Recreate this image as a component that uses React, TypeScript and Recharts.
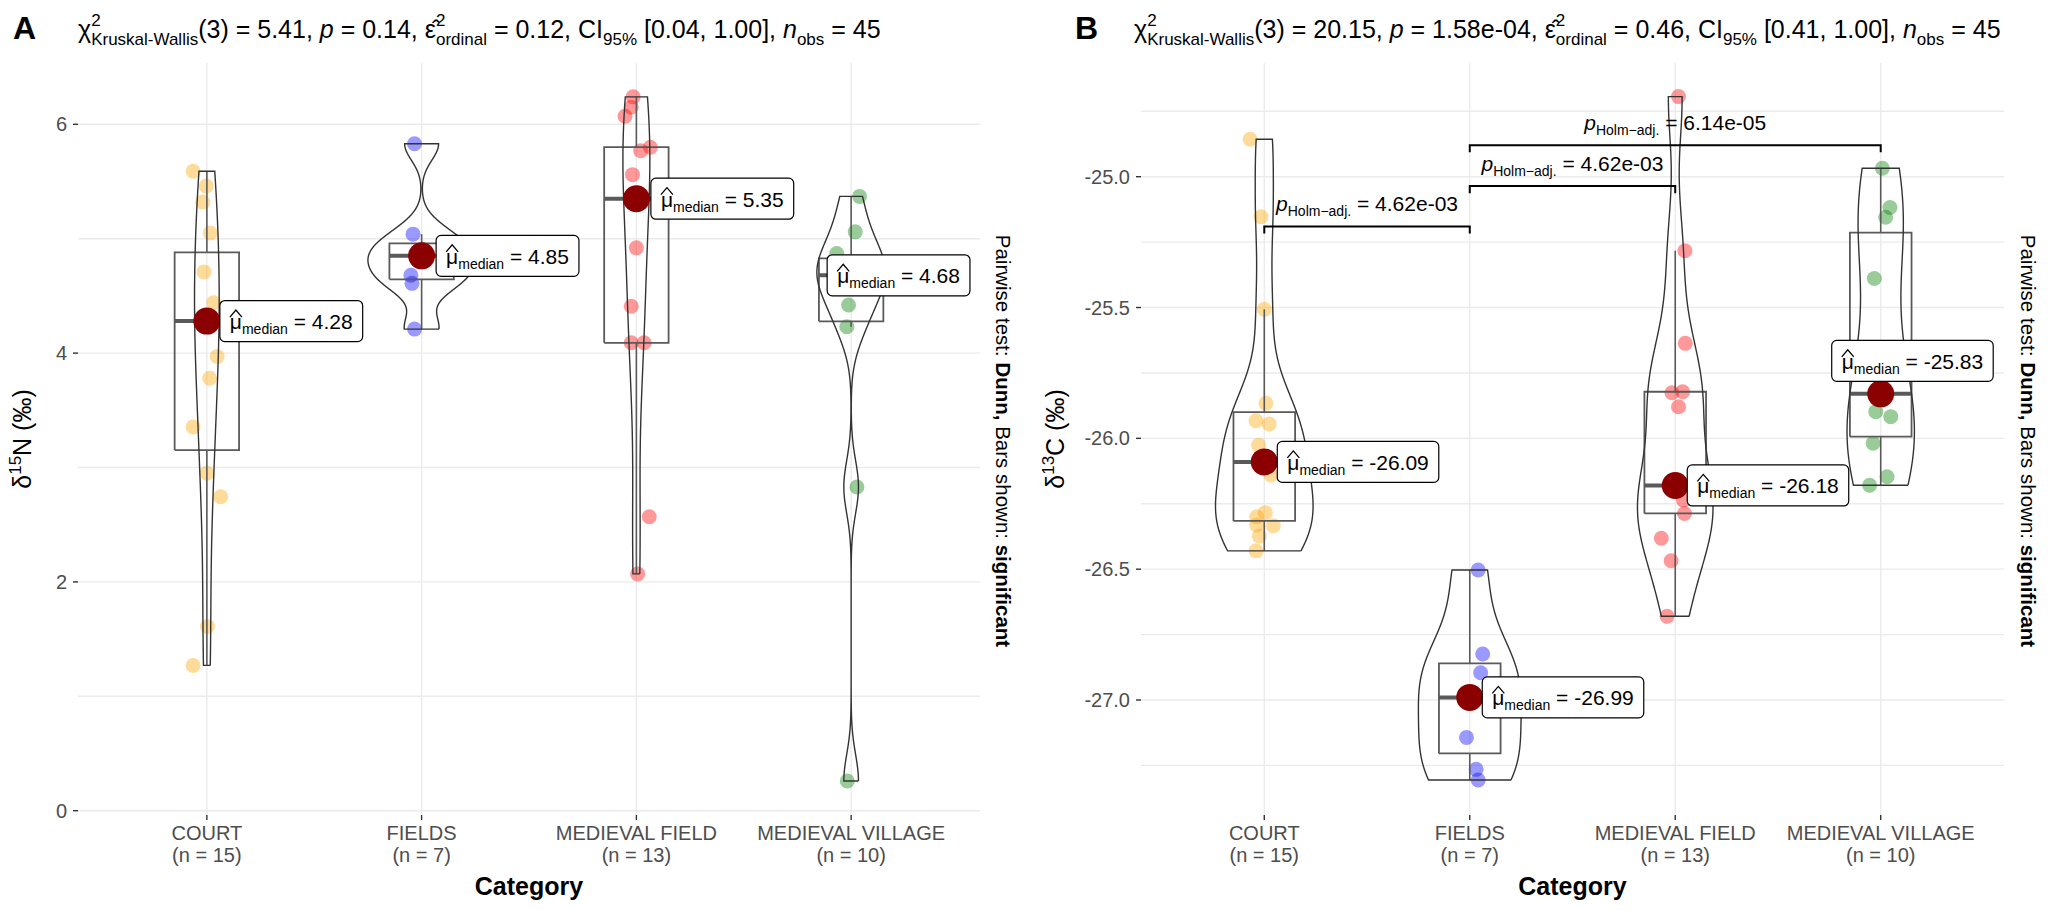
import React from 'react';
import { ComposedChart, Scatter, XAxis, YAxis, CartesianGrid } from 'recharts';

const FONT = '"Liberation Sans", Arial, sans-serif';

const categories = ['COURT', 'FIELDS', 'MEDIEVAL FIELD', 'MEDIEVAL VILLAGE'];
const groupColors = ['#FFA500', '#0000FF', '#FF0000', '#008000'];

// delta 15N (permil), panel A
const n15Court = [5.59, 5.46, 5.32, 5.05, 4.71, 4.44, 4.32, 4.28, 3.97, 3.78, 3.355, 2.95, 2.745, 1.61, 1.27];
const n15CourtJitter = [-0.064, -0.003, -0.019, 0.016, -0.013, 0.032, 0.02, 0, 0.048, 0.013, -0.064, 0, 0.064, 0.003, -0.064];
const n15Fields = [5.83, 5.04, 4.88, 4.85, 4.68, 4.61, 4.21];
const n15FieldsJitter = [-0.033, -0.04, 0.02, 0, -0.05, -0.045, -0.033];
const n15MedField = [6.24, 6.15, 6.07, 5.8, 5.77, 5.56, 5.35, 4.92, 4.41, 4.09, 4.09, 2.57, 2.07];
const n15MedFieldJitter = [-0.015, -0.024, -0.053, 0.065, 0.02, -0.018, 0, 0, -0.024, -0.024, 0.036, 0.06, 0.006];
const n15MedVillage = [5.37, 5.06, 4.87, 4.7, 4.69, 4.67, 4.42, 4.23, 2.83, 0.26];
const n15MedVillageJitter = [0.039, 0.019, -0.067, 0.01, -0.02, 0.03, -0.012, -0.02, 0.027, -0.018];

// delta 13C (permil), panel B
const c13Court = [-24.857, -25.153, -25.507, -25.866, -25.933, -25.945, -26.026, -26.09, -26.14, -26.284, -26.3, -26.331, -26.334, -26.373, -26.43];
const c13CourtJitter = [-0.069, -0.016, 0, 0.008, -0.04, 0.024, -0.028, 0, 0.032, 0.005, -0.037, -0.037, 0.044, -0.024, -0.04];
const c13Fields = [-26.503, -26.824, -26.896, -26.99, -27.143, -27.265, -27.306];
const c13FieldsJitter = [0.041, 0.063, 0.053, 0, -0.016, 0.031, 0.041];
const c13MedField = [-24.694, -25.283, -25.637, -25.822, -25.826, -25.879, -26.18, -26.2, -26.236, -26.287, -26.382, -26.468, -26.68];
const c13MedFieldJitter = [0.016, 0.047, 0.049, 0.036, -0.016, 0.016, 0, 0.01, 0.04, 0.045, -0.068, -0.02, -0.04];
const c13MedVillage = [-24.968, -25.118, -25.155, -25.389, -25.762, -25.898, -25.917, -26.019, -26.147, -26.179];
const c13MedVillageJitter = [0.008, 0.045, 0.024, -0.031, 0.02, -0.024, 0.049, -0.037, 0.031, -0.054];

const ticksA = [0, 2, 4, 6];
const gridA = [0, 1, 2, 3, 4, 5, 6];
const ticksB = [-27, -26.5, -26, -25.5, -25];
const gridB = [-27.25, -27, -26.75, -26.5, -26.25, -26, -25.75, -25.5, -25.25, -25, -24.75];

// Dunn pairwise tests shown in panel B (group numbers 1..4)
const pairsB = [
  { from: 1, to: 2, y: -25.19, p: '4.62e-03' },
  { from: 2, to: 3, y: -25.036, p: '4.62e-03' },
  { from: 2, to: 4, y: -24.88, p: '6.14e-05' },
];

const titleA = { chi: '5.41', p: '0.14', eps: '0.12', ci: '0.04, 1.00', n: '45' };
const titleB = { chi: '20.15', p: '1.58e-04', eps: '0.46', ci: '0.41, 1.00', n: '45' };

// label displacement (px) of the median labels, as ggrepel placed them
const labelNudgeA = [{ dx: 13, dy: 0 }, { dx: 14.5, dy: 0 }, { dx: 14.5, dy: 0 }, { dx: -24, dy: 0 }];
const labelNudgeB = [{ dx: 13, dy: 0 }, { dx: 12.5, dy: 0 }, { dx: 12, dy: 0 }, { dx: -49, dy: -33 }];

const groupsA = [
  { values: n15Court, jitter: n15CourtJitter },
  { values: n15Fields, jitter: n15FieldsJitter },
  { values: n15MedField, jitter: n15MedFieldJitter },
  { values: n15MedVillage, jitter: n15MedVillageJitter },
];
const groupsB = [
  { values: c13Court, jitter: c13CourtJitter },
  { values: c13Fields, jitter: c13FieldsJitter },
  { values: c13MedField, jitter: c13MedFieldJitter },
  { values: c13MedVillage, jitter: c13MedVillageJitter },
];

// ---- stats helpers ----
const quantile = (sorted: number[], p: number) => {
  const h = (sorted.length - 1) * p;
  const lo = Math.floor(h);
  const hi = Math.ceil(h);
  return sorted[lo] + (h - lo) * (sorted[hi] - sorted[lo]);
};

const stdDev = (v: number[]) => {
  const m = v.reduce((a, b) => a + b, 0) / v.length;
  return Math.sqrt(v.reduce((a, b) => a + (b - m) * (b - m), 0) / (v.length - 1));
};

const bwNrd0 = (v: number[]) => {
  const s = [...v].sort((a, b) => a - b);
  const hi = stdDev(v);
  let lo = Math.min(hi, (quantile(s, 0.75) - quantile(s, 0.25)) / 1.34);
  if (!(lo > 0)) lo = hi || 1;
  return 0.9 * lo * Math.pow(v.length, -0.2);
};

const densityGrid = (v: number[]) => {
  const bw = bwNrd0(v);
  const min = Math.min(...v);
  const max = Math.max(...v);
  const out: { y: number; d: number }[] = [];
  for (let i = 0; i < 512; i += 1) {
    const y = min + ((max - min) * i) / 511;
    let sum = 0;
    v.forEach((x) => {
      const z = (y - x) / bw;
      sum += Math.exp(-0.5 * z * z);
    });
    out.push({ y, d: sum / (v.length * bw * Math.sqrt(2 * Math.PI)) });
  }
  return out;
};

const groupStats = (v: number[]) => {
  const s = [...v].sort((a, b) => a - b);
  const q1 = quantile(s, 0.25);
  const med = quantile(s, 0.5);
  const q3 = quantile(s, 0.75);
  const iqr = q3 - q1;
  const upper = Math.max(...s.filter((x) => x <= q3 + 1.5 * iqr));
  const lower = Math.min(...s.filter((x) => x >= q1 - 1.5 * iqr));
  return { q1, med, q3, upper, lower, dens: densityGrid(v) };
};

let measureCtx: CanvasRenderingContext2D | null = null;
const textWidth = (s: string, size: number) => {
  if (!measureCtx) measureCtx = document.createElement('canvas').getContext('2d');
  if (!measureCtx) return s.length * size * 0.55;
  measureCtx.font = `${size}px "Liberation Sans"`;
  return measureCtx.measureText(s).width;
};

// ---- shapes ----
const NoShape = () => <g />;

const makeDot = (color: string) => (props: any) => {
  const { cx, cy } = props;
  if (cx == null || cy == null) return <g />;
  return <circle cx={cx} cy={cy} r={7.5} fill={color} fillOpacity={0.4} />;
};

const MedianShape = (props: any) => {
  const { cx, cy, payload } = props;
  if (cx == null || cy == null) return <g />;
  const { text, dx, dy } = payload;
  const muW = textWidth('\u03bc', 21);
  const w = 20 + muW + textWidth('median', 14) + textWidth(` = ${text}`, 21);
  const bx = cx + dx;
  const by = cy + dy - 20.5;
  const hx = bx + 10 + muW / 2;
  return (
    <g>
      <circle cx={cx} cy={cy} r={13.5} fill="#8B0000" />
      <rect x={bx} y={by} width={w} height={41} rx={5} ry={5} fill="#FFFFFF" stroke="#000000" strokeWidth={1.2} />
      <path
        d={`M${hx - 6},${by + 16.5} L${hx},${by + 9.5} L${hx + 6},${by + 16.5}`}
        fill="none"
        stroke="#000000"
        strokeWidth={1.3}
      />
      <text x={bx + 10} y={by + 28.5} fontSize={21} fontFamily={FONT} fill="#000000">
        <tspan>{'\u03bc'}</tspan>
        <tspan fontSize={14} dy={5}>median</tspan>
        <tspan dy={-5}>{` = ${text}`}</tspan>
      </text>
    </g>
  );
};

const PairLabel = (props: any) => {
  const { cx, cy, payload } = props;
  if (cx == null || cy == null) return <g />;
  return (
    <text x={cx} y={cy - 15} textAnchor="middle" fontSize={21} fontFamily={FONT} fill="#000000">
      <tspan fontStyle="italic">p</tspan>
      <tspan fontSize={14} dy={5}>{'Holm\u2212adj.'}</tspan>
      <tspan dy={-5}>{` = ${payload.p}`}</tspan>
    </text>
  );
};

const CategoryTick = (props: any) => {
  const { x, y, payload, counts } = props;
  const i = Math.round(payload.value) - 1;
  return (
    <g>
      <text x={x} y={y + 18} textAnchor="middle" fontSize={20} fill="#4D4D4D" fontFamily={FONT}>
        {categories[i]}
      </text>
      <text x={x} y={y + 40} textAnchor="middle" fontSize={20} fill="#4D4D4D" fontFamily={FONT}>
        {`(n = ${counts[i]})`}
      </text>
    </g>
  );
};

interface PanelProps {
  groups: { values: number[]; jitter: number[] }[];
  domain: [number, number];
  ticks: number[];
  grid: number[];
  tickFormat: (v: number) => string;
  yAxisWidth: number;
  nudges: { dx: number; dy: number }[];
  pairs?: { from: number; to: number; y: number; p: string }[];
  tip?: number;
  left: number;
}

function Panel({ groups, domain, ticks, grid, tickFormat, yAxisWidth, nudges, pairs = [], tip = 0, left }: PanelProps) {
  const stats = groups.map((g) => groupStats(g.values));
  const maxDens = Math.max(...stats.map((s) => Math.max(...s.dens.map((d) => d.d))));
  const counts = groups.map((g) => g.values.length);

  const violins = stats.map((s, i) => {
    const x = i + 1;
    const right = s.dens.map((d) => ({ x: x + (d.d / maxDens) * 0.25, y: d.y }));
    const leftSide = [...s.dens].reverse().map((d) => ({ x: x - (d.d / maxDens) * 0.25, y: d.y }));
    return [...right, ...leftSide, right[0]];
  });

  const boxes = stats.map((s, i) => {
    const x = i + 1;
    return [
      { x: x - 0.15, y: s.q1 },
      { x: x + 0.15, y: s.q1 },
      { x: x + 0.15, y: s.q3 },
      { x: x - 0.15, y: s.q3 },
      { x: x - 0.15, y: s.q1 },
    ];
  });

  const medians = stats.map((s, i) => ({
    x: i + 1,
    y: s.med,
    text: s.med.toFixed(2),
    dx: nudges[i].dx,
    dy: nudges[i].dy,
  }));

  const lineStyle = (stroke: string, strokeWidth: number) => ({ stroke, strokeWidth, fill: 'none' });

  return (
    <div style={{ position: 'absolute', left, top: 0 }}>
      <ComposedChart width={1024} height={910} margin={{ top: 63, right: 44, bottom: 0, left: 0 }}>
        <CartesianGrid stroke="#EBEBEB" strokeWidth={1.4} horizontalValues={grid} verticalValues={[1, 2, 3, 4]} />
        <XAxis
          type="number"
          dataKey="x"
          domain={[0.4, 4.6]}
          ticks={[1, 2, 3, 4]}
          interval={0}
          height={95}
          axisLine={false}
          tickLine={{ stroke: '#333333', strokeWidth: 1.4 }}
          tickSize={5}
          tickMargin={2}
          allowDataOverflow
          tick={(p: any) => <CategoryTick {...p} counts={counts} />}
        />
        <YAxis
          type="number"
          dataKey="y"
          domain={domain}
          ticks={ticks}
          interval={0}
          width={yAxisWidth}
          axisLine={false}
          tickLine={{ stroke: '#333333', strokeWidth: 1.4 }}
          tickSize={5}
          tickMargin={6}
          allowDataOverflow
          tickFormatter={tickFormat}
          tick={{ fontSize: 20, fill: '#4D4D4D', fontFamily: FONT }}
        />
        {groups.map((g, i) => (
          <Scatter
            key={`pts-${i}`}
            data={g.values.map((v, j) => ({ x: i + 1 + g.jitter[j], y: v }))}
            shape={makeDot(groupColors[i])}
            isAnimationActive={false}
          />
        ))}
        {stats.map((s, i) => (
          <Scatter
            key={`wh-${i}`}
            data={[
              { x: i + 1, y: s.upper },
              { x: i + 1, y: s.q3 },
            ]}
            line={lineStyle('#5A5A5A', 1.6)}
            shape={NoShape}
            isAnimationActive={false}
          />
        ))}
        {stats.map((s, i) => (
          <Scatter
            key={`wl-${i}`}
            data={[
              { x: i + 1, y: s.q1 },
              { x: i + 1, y: s.lower },
            ]}
            line={lineStyle('#5A5A5A', 1.6)}
            shape={NoShape}
            isAnimationActive={false}
          />
        ))}
        {boxes.map((b, i) => (
          <Scatter key={`box-${i}`} data={b} line={lineStyle('#5A5A5A', 1.8)} shape={NoShape} isAnimationActive={false} />
        ))}
        {stats.map((s, i) => (
          <Scatter
            key={`med-${i}`}
            data={[
              { x: i + 0.85, y: s.med },
              { x: i + 1.15, y: s.med },
            ]}
            line={lineStyle('#5A5A5A', 4)}
            shape={NoShape}
            isAnimationActive={false}
          />
        ))}
        {violins.map((v, i) => (
          <Scatter key={`vio-${i}`} data={v} line={lineStyle('#333333', 1.4)} shape={NoShape} isAnimationActive={false} />
        ))}
        <Scatter data={medians} shape={MedianShape} isAnimationActive={false} />
        {pairs.map((p, i) => (
          <Scatter
            key={`pair-${i}`}
            data={[
              { x: p.from, y: p.y - tip },
              { x: p.from, y: p.y },
              { x: p.to, y: p.y },
              { x: p.to, y: p.y - tip },
            ]}
            line={lineStyle('#000000', 2)}
            shape={NoShape}
            isAnimationActive={false}
          />
        ))}
        {pairs.length > 0 && (
          <Scatter
            data={pairs.map((p) => ({ x: (p.from + p.to) / 2, y: p.y, p: p.p }))}
            shape={PairLabel}
            isAnimationActive={false}
          />
        )}
      </ComposedChart>
    </div>
  );
}

function StatTitle({ x, y, t }: { x: number; y: number; t: typeof titleA }) {
  const sup = 17;
  const w2 = sup * 0.556;
  return (
    <text x={x} y={y} fontSize={25} fontFamily={FONT} fill="#000000">
      <tspan>{'\u03c7'}</tspan>
      <tspan fontSize={sup} dy={-12}>2</tspan>
      <tspan fontSize={sup} dx={-w2} dy={19}>Kruskal-Wallis</tspan>
      <tspan dy={-7}>{`(3) = ${t.chi}, `}</tspan>
      <tspan fontStyle="italic">p</tspan>
      <tspan>{` = ${t.p}, `}</tspan>
      <tspan>{'\u03b5\u0302'}</tspan>
      <tspan fontSize={sup} dy={-12}>2</tspan>
      <tspan fontSize={sup} dx={-w2} dy={19}>ordinal</tspan>
      <tspan dy={-7}>{` = ${t.eps}, CI`}</tspan>
      <tspan fontSize={sup} dy={7}>95%</tspan>
      <tspan dy={-7}>{` [${t.ci}], `}</tspan>
      <tspan fontStyle="italic">n</tspan>
      <tspan fontSize={sup} dy={7}>obs</tspan>
      <tspan dy={-7}>{` = ${t.n}`}</tspan>
    </text>
  );
}

function SideNote({ x, y }: { x: number; y: number }) {
  return (
    <text x={x} y={y} transform={`rotate(90, ${x}, ${y})`} textAnchor="middle" fontSize={20.5} fontFamily={FONT} fill="#000000">
      <tspan>Pairwise test: </tspan>
      <tspan fontWeight="bold">Dunn,</tspan>
      <tspan> Bars shown: </tspan>
      <tspan fontWeight="bold">significant</tspan>
    </text>
  );
}

function AxisTitle({ x, y, iso, el }: { x: number; y: number; iso: string; el: string }) {
  return (
    <text x={x} y={y} transform={`rotate(-90, ${x}, ${y})`} textAnchor="middle" fontSize={25} fontFamily={FONT} fill="#000000">
      <tspan>{'\u03b4'}</tspan>
      <tspan fontSize={17} dy={-10}>{iso}</tspan>
      <tspan dy={10}>{`${el} (\u2030)`}</tspan>
    </text>
  );
}

export default function App() {
  return (
    <div style={{ position: 'absolute', left: 0, top: 0, width: 2048, height: 910, background: '#FFFFFF', overflow: 'hidden' }}>
      <Panel
        groups={groupsA}
        domain={[-0.0376, 6.536]}
        ticks={ticksA}
        grid={gridA}
        tickFormat={(v) => String(v)}
        yAxisWidth={78}
        nudges={labelNudgeA}
        left={0}
      />
      <Panel
        groups={groupsB}
        domain={[-27.4395, -24.5655]}
        ticks={ticksB}
        grid={gridB}
        tickFormat={(v) => v.toFixed(1)}
        yAxisWidth={117}
        nudges={labelNudgeB}
        pairs={pairsB}
        tip={0.027}
        left={1024}
      />
      <svg width={2048} height={910} style={{ position: 'absolute', left: 0, top: 0, pointerEvents: 'none' }}>
        <text x={13} y={39} fontSize={32} fontWeight="bold" fontFamily={FONT}>A</text>
        <text x={1075} y={39} fontSize={32} fontWeight="bold" fontFamily={FONT}>B</text>
        <StatTitle x={78} y={38} t={titleA} />
        <StatTitle x={1134} y={38} t={titleB} />
        <AxisTitle x={31} y={439} iso="15" el="N" />
        <AxisTitle x={1064} y={439} iso="13" el="C" />
        <SideNote x={996} y={441} />
        <SideNote x={2021} y={441} />
        <text x={529} y={895} textAnchor="middle" fontSize={25} fontWeight="bold" fontFamily={FONT}>Category</text>
        <text x={1572.5} y={895} textAnchor="middle" fontSize={25} fontWeight="bold" fontFamily={FONT}>Category</text>
      </svg>
    </div>
  );
}
